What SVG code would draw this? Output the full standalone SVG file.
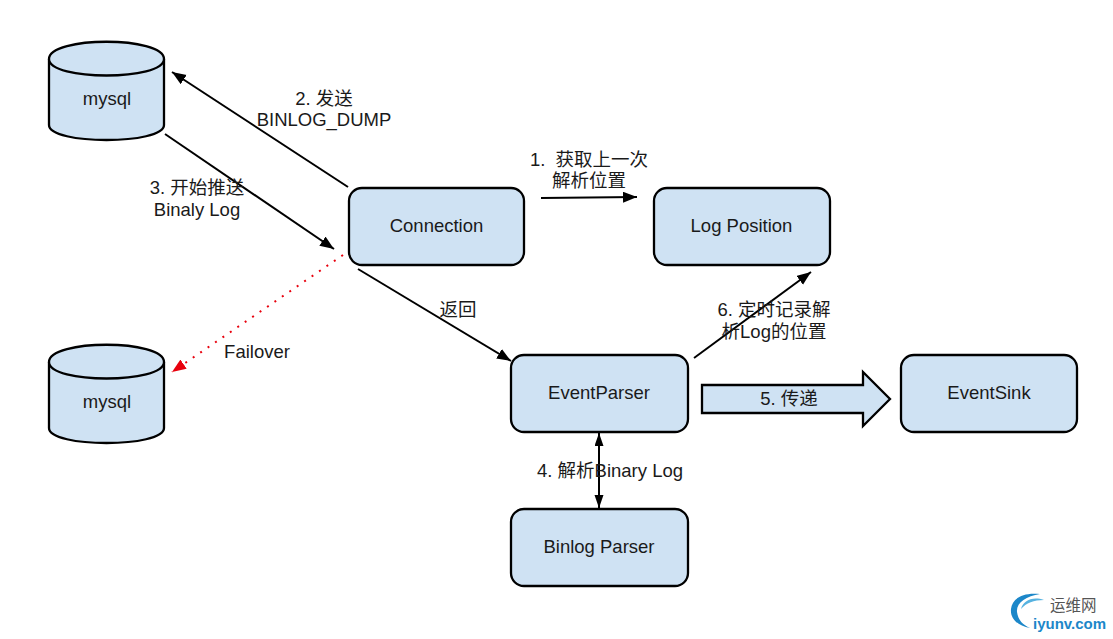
<svg xmlns="http://www.w3.org/2000/svg" width="1113" height="639" viewBox="0 0 1113 639">
<style>
.n{fill:#cfe2f3;stroke:#000;stroke-width:2.3}
.t{font-family:"Liberation Sans","Noto Sans CJK SC",sans-serif;font-size:18.500px;fill:#1a1a1a;text-anchor:middle}
.c{fill:none;stroke:#000;stroke-width:2}
.w{font-family:"Noto Sans CJK SC","Liberation Sans",sans-serif;text-anchor:start}
</style>
<defs>
<marker id="a" markerUnits="userSpaceOnUse" markerWidth="16" markerHeight="14" refX="14" refY="5.500" orient="auto"><path d="M0 0L14 5.500L0 11z" fill="#000"/></marker>
<marker id="s" markerUnits="userSpaceOnUse" markerWidth="16" markerHeight="14" refX="13" refY="4.500" orient="auto-start-reverse"><path d="M0 0L13 4.500L0 9z" fill="#000"/></marker>
<marker id="r" markerUnits="userSpaceOnUse" markerWidth="16" markerHeight="14" refX="14" refY="5.500" orient="auto"><path d="M0 0L14 5.500L0 11z" fill="#e8000d"/></marker>
</defs>
<rect width="1113" height="639" fill="#fff"/>
<g id="connectors">
<line class="c" x1="348" y1="187" x2="172" y2="72" marker-end="url(#a)"/>
<line class="c" x1="165" y1="134" x2="334" y2="249" marker-end="url(#a)"/>
<line class="c" x1="541" y1="198" x2="637" y2="197" marker-end="url(#a)"/>
<line class="c" x1="358" y1="269" x2="511" y2="361" marker-end="url(#a)"/>
<line x1="343" y1="255" x2="172" y2="372" fill="none" stroke="#e8000d" stroke-width="2" stroke-dasharray="2 7" marker-end="url(#r)"/>
<line class="c" x1="694" y1="358" x2="811" y2="272" marker-end="url(#a)"/>
<line class="c" x1="599" y1="433" x2="599" y2="508" marker-start="url(#s)" marker-end="url(#s)"/>
</g>
<g id="mysql1">
<path class="n" d="M49 59C49 36 164 36 164 59V125C164 145 49 145 49 125Z"/>
<path class="n" d="M49 59C49 81 164 81 164 59"/>
<text class="t" x="107" y="105">mysql</text>
</g>
<g id="mysql2">
<path class="n" d="M49 362C49 339 164 339 164 362V428C164 448 49 448 49 428Z"/>
<path class="n" d="M49 362C49 384 164 384 164 362"/>
<text class="t" x="107" y="408">mysql</text>
</g>
<g id="connection"><rect class="n" x="349" y="188" width="175" height="77" rx="13"/><text class="t" x="436.500" y="232">Connection</text></g>
<g id="logposition"><rect class="n" x="654" y="188" width="176" height="77" rx="13"/><text class="t" x="741.500" y="232">Log Position</text></g>
<g id="eventparser"><rect class="n" x="511" y="355" width="177" height="77" rx="13"/><text class="t" x="599" y="399">EventParser</text></g>
<g id="eventsink"><rect class="n" x="901" y="355" width="176" height="77" rx="13"/><text class="t" x="989" y="399">EventSink</text></g>
<g id="binlogparser"><rect class="n" x="511" y="509" width="177" height="77" rx="13"/><text class="t" x="599" y="553">Binlog Parser</text></g>
<g id="transfer">
<path class="n" d="M702 385H863V372L890 399L863 426V413H702Z"/>
<text class="t" x="789" y="405">5. 传递</text>
</g>
<g id="labels">
<text class="t" x="324" y="105">2. 发送</text>
<text class="t" x="324" y="126">BINLOG_DUMP</text>
<text class="t" x="197" y="194">3. 开始推送</text>
<text class="t" x="197" y="216">Binaly Log</text>
<text class="t" x="589" y="166">1.&#160; 获取上一次</text>
<text class="t" x="589" y="187">解析位置</text>
<text class="t" x="458" y="316">返回</text>
<text class="t" x="257" y="358">Failover</text>
<text class="t" x="774" y="316">6. 定时记录解</text>
<text class="t" x="774" y="338">析Log的位置</text>
<text class="t" x="610" y="477">4. 解析Binary Log</text>
</g>
<g id="watermark">
<path d="M1030 628C1017 626 1010 618 1011 609C1012 599 1022 592 1040 594C1026 596 1016 603 1017 612C1018 620 1023 625 1030 628Z" fill="#1c87c9"/>
<path d="M1021 609C1023 601 1032 596 1044 600C1034 600 1026 603 1021 609Z" fill="#56b2e0"/>
<text class="w" x="1050" y="611" font-size="15.500" fill="#555">运维网</text>
<text x="1033" y="629" font-family="'Liberation Sans',sans-serif" font-weight="bold" font-size="15" fill="#1c87c9">iyunv.com</text>
</g>
</svg>
